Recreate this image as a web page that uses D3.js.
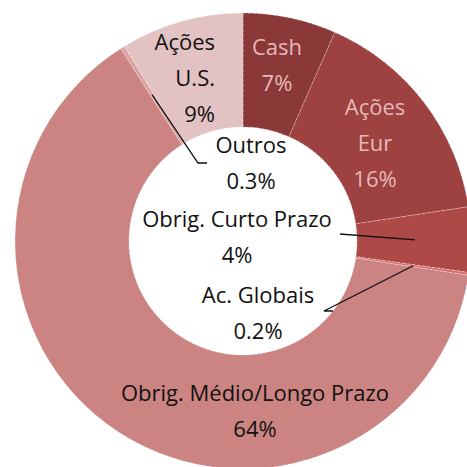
<!DOCTYPE html>
<html>
<head>
<meta charset="utf-8">
<script src="https://cdn.jsdelivr.net/npm/d3@7"></script>
<style>
  html, body { margin: 0; padding: 0; background: #fff; }
  svg { display: block; }
  text { font-family: "Open Sans", sans-serif; }
</style>
</head>
<body>
<div id="donut-container"></div>
<script>
// slices, clockwise from 12 o'clock
const categories = ["Cash", "Ações Eur", "Obrig. Curto Prazo", "Ac. Globais", "Obrig. Médio/Longo Prazo", "Outros", "Ações U.S."];
const shares = [6.6, 16.0, 4.6, 0.2, 63.6, 0.3, 8.7];
const shareLabels = ["7%", "16%", "4%", "0.2%", "64%", "0.3%", "9%"];
const sliceColors = ["#8a3838", "#9e4141", "#ad4947", "#d86c6a", "#cc8482", "#d9a3a3", "#e3c2c3"];

const width = 467, height = 467;
const cx = 243, cy = 241;
const outerR = 228, innerR = 114;

const svg = d3.select("#donut-container")
  .append("svg")
  .attr("width", width)
  .attr("height", height);

const data = categories.map((c, i) => ({ name: c, value: shares[i], label: shareLabels[i], color: sliceColors[i] }));

const pie = d3.pie().value(d => d.value).sort(null);
const arcs = pie(data);
const arc = d3.arc().innerRadius(innerR).outerRadius(outerR);
const midArc = d3.arc().innerRadius(172).outerRadius(172);

const g = svg.append("g").attr("transform", `translate(${cx},${cy})`);

g.selectAll("path")
  .data(arcs)
  .enter()
  .append("path")
  .attr("d", arc)
  .attr("fill", d => d.data.color)
  .attr("stroke", "rgba(255,255,255,0.55)")
  .attr("stroke-width", 0.7)
  .attr("stroke-dasharray", "3,2");

// label layout: text lines + anchor position (relative to centre)
const labelSpecs = {
  "Cash": { lines: ["Cash", "7%"], x: 34, y: -186, anchor: "middle", fill: "#e6b9b9" },
  "Ações Eur": { lines: ["Ações", "Eur", "16%"], x: 132, y: -126, anchor: "middle", fill: "#e6b9b9" },
  "Ações U.S.": { lines: ["Ações", "U.S.", "9%"], x: -28, y: -191, anchor: "end", fill: "#111" },
  "Outros": { lines: ["Outros", "0.3%"], x: 8, y: -88, anchor: "middle", fill: "#111" },
  "Obrig. Curto Prazo": { lines: ["Obrig. Curto Prazo", "4%"], x: -6, y: -14, anchor: "middle", fill: "#111" },
  "Ac. Globais": { lines: ["Ac. Globais", "0.2%"], x: 15, y: 62, anchor: "middle", fill: "#111" },
  "Obrig. Médio/Longo Prazo": { lines: ["Obrig. Médio/Longo Prazo", "64%"], x: 12, y: 160, anchor: "middle", fill: "#111" }
};

// leader lines for the thin slices: [elbow x, elbow y, text-side x]
const leaders = {
  "Outros": [-45, -78, -36],
  "Obrig. Curto Prazo": [97, -7, 97],
  "Ac. Globais": [81, 70, 90]
};

arcs.forEach(a => {
  const spec = labelSpecs[a.data.name];
  const lineH = 36;
  const t = g.append("text")
    .attr("text-anchor", spec.anchor)
    .attr("fill", spec.fill)
    .style("font-size", "22px");
  spec.lines.forEach((ln, i) => {
    let txt = ln;
    if (i === spec.lines.length - 1) txt = a.data.label;
    t.append("tspan")
      .attr("x", spec.x)
      .attr("y", spec.y + i * lineH)
      .text(txt);
  });

  const ld = leaders[a.data.name];
  if (ld) {
    const [px, py] = midArc.centroid(a);
    const pts = [[px, py], [ld[0], ld[1]], [ld[2], ld[1]]];
    g.append("path")
      .attr("d", d3.line()(pts))
      .attr("fill", "none")
      .attr("stroke", "#111")
      .attr("stroke-width", 1.3);
  }
});
</script>
</body>
</html>
